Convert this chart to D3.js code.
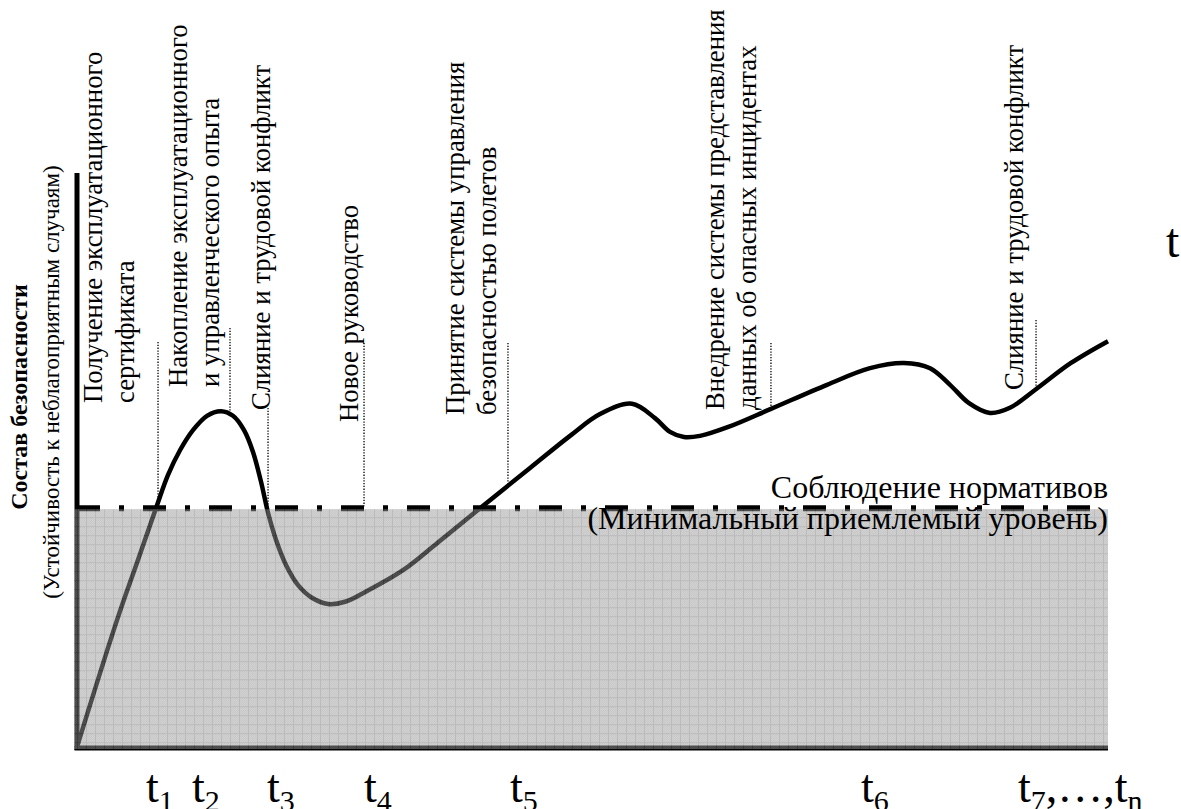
<!DOCTYPE html>
<html>
<head>
<meta charset="utf-8">
<script src="https://cdn.jsdelivr.net/npm/d3@7"></script>
<style>
  html, body { margin: 0; padding: 0; background: #fff; }
  svg { display: block; }
  text { font-family: "Liberation Serif", "Times New Roman", serif; }
</style>
</head>
<body>
<svg width="1181" height="809"></svg>
<script>
// safety curve (time 0..100, level 0..100)
const curveT = [0, 3.88, 5.82, 7.66, 8.83, 9.99, 11.25, 12.61, 13.97, 15.13, 16.2, 17.07, 17.85, 18.53,
  19.3, 20.27, 21.44, 22.79, 24.35, 26.0, 27.74, 31.62, 34.92, 39.09, 43.94, 47.82, 50.73, 53.83, 56.06,
  57.52, 58.87, 60.43, 63.24, 67.31, 72.74, 76.92, 80.21, 82.74, 84.68, 86.52, 88.55, 90.49, 92.92,
  96.41, 100];
const curveLevel = [0, 22.1, 32.1, 41.6, 47.4, 51.7, 55.2, 57.7, 58.5, 57.7, 55.2, 51.4, 46.2, 40.8,
  36.1, 31.7, 28.2, 26.0, 24.9, 25.3, 26.8, 30.8, 35.5, 41.6, 48.6, 54.2, 58.0, 59.8, 57.3,
  54.9, 54.0, 54.2, 55.8, 58.9, 63.1, 66.0, 66.9, 66.0, 63.1, 59.9, 58.2, 59.1, 62.2,
  66.9, 70.7];

// minimum acceptable level
const normLevel = 41.6;
const normLabels = ["Соблюдение нормативов", "(Минимальный приемлемый уровень)"];

// events along the time axis
const eventTimes = [7.86, 14.84, 18.53, 27.84, 41.8, 67.31, 93.02];
const eventLines = [
  ["Получение эксплуатационного", "сертификата"],
  ["Накопление эксплуатационного", "и управленческого опыта"],
  ["Слияние и трудовой конфликт"],
  ["Новое руководство"],
  ["Принятие системы управления", "безопасностью полетов"],
  ["Внедрение системы представления", "данных об опасных инцидентах"],
  ["Слияние и трудовой конфликт"]
];

// time tick labels: [text, subscript?]
const tickTimes = [6.69, 11.15, 18.43, 27.84, 42.0, 76.04, 91.27];
const tickLabels = [
  [["t", 0], ["1", 1]],
  [["t", 0], ["2", 1]],
  [["t", 0], ["3", 1]],
  [["t", 0], ["4", 1]],
  [["t", 0], ["5", 1]],
  [["t", 0], ["6", 1]],
  [["t", 0], ["7", 1], [",…,", 0], ["t", 0], ["n", 1]]
];

const yTitle = "Состав безопасности";
const ySubtitle = "(Устойчивость к неблагоприятным случаям)";
const xTitle = "t";

// layout of the event labels (px)
const labelShift = [-24, -11, 2, -6, -12, -15, -13];
const labelBottom = [403, 387, 410, 422, 415, 410, 390];
const leaderTop = [342, 328, 408, 343, 343, 343, 320];
const lineGap = 32;
const serif = "Liberation Serif, Times New Roman, serif";

const svg = d3.select("svg");
const x = d3.scaleLinear().domain([0, 100]).range([77, 1108]);
const y = d3.scaleLinear().domain([0, 100]).range([747, 173]);

const defs = svg.append("defs");
const dither = defs.append("pattern").attr("id", "dither")
  .attr("width", 2).attr("height", 2).attr("patternUnits", "userSpaceOnUse");
dither.append("rect").attr("width", 2).attr("height", 2).attr("fill", "#a8a8a8");
dither.append("rect").attr("width", 1).attr("height", 1).attr("fill", "#8c8c8c");
dither.append("rect").attr("x", 1).attr("y", 1).attr("width", 1).attr("height", 1).attr("fill", "#8c8c8c");

const grid = defs.append("pattern").attr("id", "grid")
  .attr("width", 9).attr("height", 9).attr("patternUnits", "userSpaceOnUse")
  .attr("x", x(0)).attr("y", y(normLevel));
grid.append("rect").attr("width", 9).attr("height", 9).attr("fill", "url(#dither)");
grid.append("path").attr("d", "M0.5,0V9M0,0.5H9").attr("stroke", "#767676").attr("stroke-width", 1);

// norm line
svg.append("line")
  .attr("x1", x(0)).attr("x2", x(100))
  .attr("y1", y(normLevel)).attr("y2", y(normLevel))
  .attr("stroke", "#000").attr("stroke-width", 6)
  .attr("stroke-dasharray", "23 19 5 19");

// curve
const pts = curveT.map((t, i) => [t, curveLevel[i]]);
const line = d3.line().x(d => x(d[0])).y(d => y(d[1])).curve(d3.curveCatmullRom.alpha(0.5));
const curve = svg.append("path").datum(pts)
  .attr("d", line)
  .attr("fill", "none").attr("stroke", "#000").attr("stroke-width", 4.5)
  .attr("stroke-linejoin", "round");

// axes
svg.append("line").attr("x1", x(0)).attr("x2", x(0)).attr("y1", y(100)).attr("y2", y(0) + 3)
  .attr("stroke", "#000").attr("stroke-width", 5);
svg.append("line").attr("x1", x(0) - 2.5).attr("x2", x(100)).attr("y1", y(0) + 1).attr("y2", y(0) + 1)
  .attr("stroke", "#000").attr("stroke-width", 5);

// curve height at a given pixel x
function curveYAt(px) {
  const node = curve.node();
  let lo = 0, hi = node.getTotalLength(), p = node.getPointAtLength(0);
  for (let k = 0; k < 30; k++) {
    const mid = (lo + hi) / 2;
    p = node.getPointAtLength(mid);
    if (p.x < px) lo = mid; else hi = mid;
  }
  return p.y;
}

// leaders
svg.append("g").selectAll("line").data(eventTimes).join("line")
  .attr("x1", d => x(d)).attr("x2", d => x(d))
  .attr("y1", (d, i) => leaderTop[i])
  .attr("y2", d => Math.min(curveYAt(x(d)), y(normLevel)) - 2)
  .attr("stroke", "#000").attr("stroke-width", 1.3)
  .attr("stroke-dasharray", "1.3 1.5");

// shaded zone below the norm
svg.append("rect")
  .attr("x", x(0) - 3).attr("y", y(normLevel) + 1)
  .attr("width", x(100) - x(0) + 3).attr("height", y(0) - y(normLevel) + 1)
  .attr("fill", "url(#grid)").attr("opacity", 0.5);

// event labels
eventLines.forEach((lines, i) => {
  const n = lines.length;
  lines.forEach((txt, j) => {
    const bx = x(eventTimes[i]) + labelShift[i] - lineGap * (n - 1 - j);
    svg.append("text")
      .attr("transform", `translate(${bx},${labelBottom[i]}) rotate(-90)`)
      .attr("font-family", serif).attr("font-size", 26.8)
      .text(txt);
  });
});

// norm labels
normLabels.forEach((txt, i) => {
  svg.append("text")
    .attr("x", x(100)).attr("y", 498 + i * 31)
    .attr("text-anchor", "end").attr("font-family", serif).attr("font-size", 32)
    .text(txt);
});

// y title
svg.append("text")
  .attr("transform", "translate(27,397) rotate(-90)")
  .attr("text-anchor", "middle").attr("font-family", serif)
  .attr("font-size", 24).attr("font-weight", "bold")
  .text(yTitle);
svg.append("text")
  .attr("transform", "translate(59,382) rotate(-90)")
  .attr("text-anchor", "middle").attr("font-family", serif).attr("font-size", 23)
  .text(ySubtitle);

// x title
svg.append("text").attr("x", 1166).attr("y", 257)
  .attr("font-family", serif).attr("font-size", 48).text(xTitle);

// tick labels
tickLabels.forEach((parts, i) => {
  const t = svg.append("text").attr("x", x(tickTimes[i])).attr("y", 802)
    .attr("font-family", serif);
  let sub = 0;
  parts.forEach(([txt, s]) => {
    t.append("tspan")
      .attr("dy", s === sub ? 0 : (s ? 9 : -9))
      .attr("font-size", s ? 30 : 46)
      .text(txt);
    sub = s;
  });
});
</script>
</body>
</html>
